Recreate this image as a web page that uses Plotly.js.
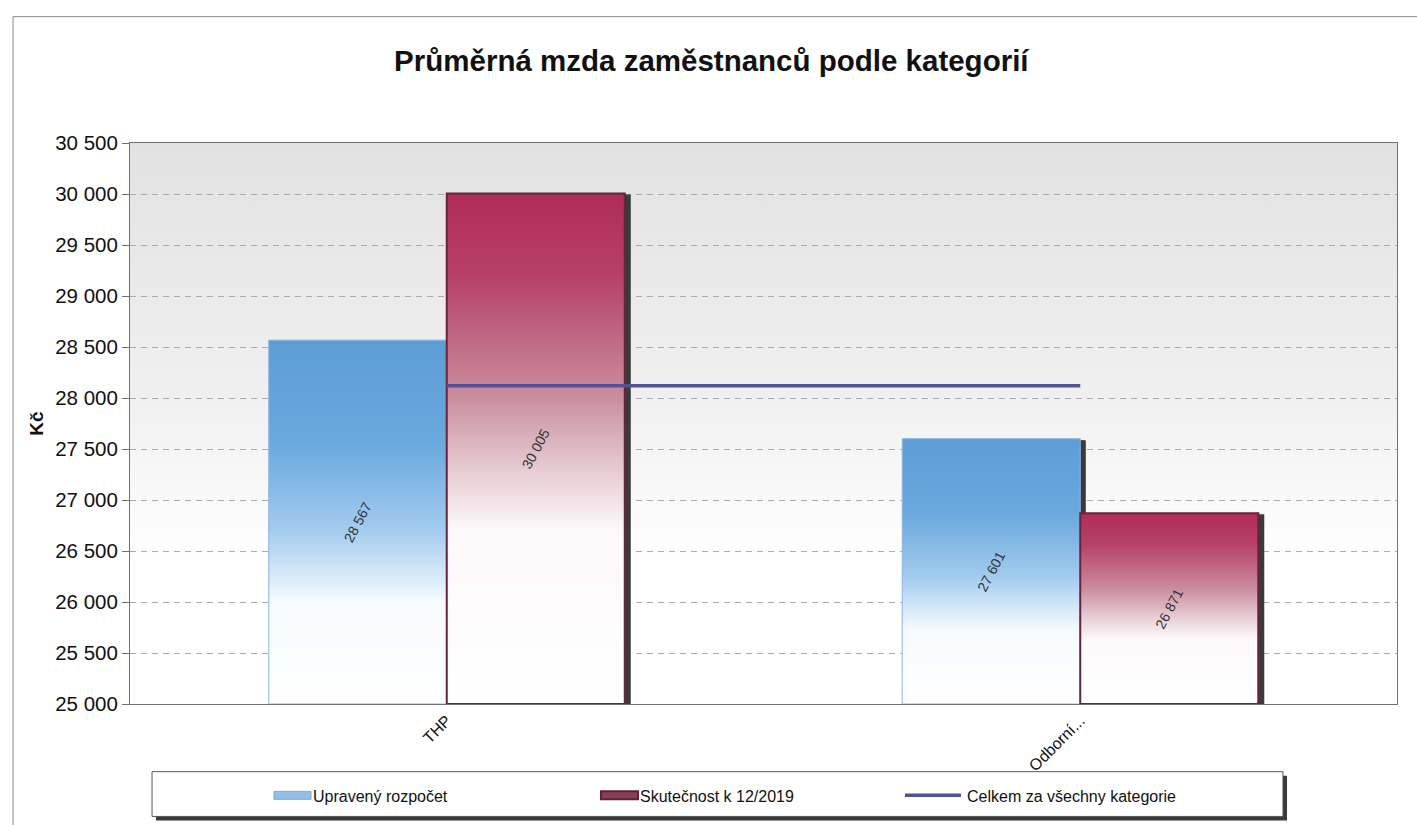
<!DOCTYPE html>
<html>
<head>
<meta charset="utf-8">
<script src="https://cdn.plot.ly/plotly-3.0.1.min.js"></script>
<style>
  html, body { margin: 0; padding: 0; background: #fff; }
  #chart { width: 1417px; height: 825px; }
</style>
</head>
<body>
<div id="chart"></div>
<script>
// ---- data ----
const categories = ['THP', 'Odborní...'];
const upravenyRozpocet = [28567, 27601];
const skutecnost = [30005, 26871];
const celkem = [28120, 28120];
const seriesNames = ['Upravený rozpočet', 'Skutečnost k 12/2019', 'Celkem za všechny kategorie'];
const yTicks = [25000, 25500, 26000, 26500, 27000, 27500, 28000, 28500, 29000, 29500, 30000, 30500];
const axisMin = 25000;
const axisMax = 30500;

function fmt(v) {
  return String(Math.round(v)).replace(/\B(?=(\d{3})+(?!\d))/g, ' ');
}

const FONT = 'Liberation Sans, Arial, sans-serif';

function barTrace(name, values, fill, lineColor, lineWidth) {
  return {
    type: 'bar', name: name, x: categories,
    base: values.map(function () { return axisMin; }),
    y: values.map(function (v) { return v - axisMin; }),
    customdata: values,
    hovertemplate: '%{x}: %{customdata}<extra>' + name + '</extra>',
    text: values.map(fmt), textposition: 'inside', insidetextanchor: 'middle',
    textangle: -62, textfont: {family: FONT, size: 14, color: '#333'},
    constraintext: 'none',
    marker: {color: fill, line: {color: lineColor, width: lineWidth}}
  };
}

const traces = [
  barTrace(seriesNames[0], upravenyRozpocet, 'rgb(110,170,225)', 'rgb(140,180,225)', 1),
  barTrace(seriesNames[1], skutecnost, 'rgb(185,70,105)', 'rgb(105,35,60)', 2),
  {
    type: 'scatter', mode: 'lines', name: seriesNames[2], x: categories, y: celkem,
    line: {color: 'rgb(82,82,150)', width: 3.5}
  }
];

const layout = {
  width: 1417, height: 825,
  paper_bgcolor: '#ffffff', plot_bgcolor: '#eeeeee',
  margin: {l: 130, r: 20, t: 143, b: 118},
  separators: ', ',
  font: {family: FONT, color: '#111'},
  title: {
    text: '<b>Průměrná mzda zaměstnanců podle kategorií</b>',
    font: {family: FONT, size: 29.5, color: '#111'},
    x: 0.502, xanchor: 'center', y: 0.927, yanchor: 'middle'
  },
  barmode: 'group', bargap: 0.438, bargroupgap: 0,
  showlegend: true,
  legend: {
    orientation: 'h', x: 0.5, xanchor: 'center', y: -0.163, yanchor: 'middle',
    font: {family: FONT, size: 16, color: '#111'},
    entrywidth: 282, bgcolor: 'rgba(0,0,0,0)', traceorder: 'normal'
  },
  xaxis: {
    type: 'category', tickangle: -45,
    tickfont: {family: FONT, size: 16, color: '#111'},
    showline: true, linecolor: '#707070', linewidth: 1, mirror: true,
    showgrid: false, ticks: '', zeroline: false, fixedrange: true
  },
  yaxis: {
    range: [axisMin, axisMax], tickvals: yTicks, ticktext: yTicks.map(fmt),
    tickfont: {family: FONT, size: 20.5, color: '#111'},
    title: {text: '<b>Kč</b>', font: {family: FONT, size: 19, color: '#111'}, standoff: 6},
    showline: true, linecolor: '#707070', linewidth: 1, mirror: true,
    ticks: 'outside', ticklen: 7, tickcolor: '#707070',
    showgrid: true, gridcolor: '#ababab', griddash: '6px,5px', gridwidth: 1,
    zeroline: false, fixedrange: true
  },
  shapes: [
    // outer chart frame
    {type: 'rect', xref: 'paper', yref: 'paper', x0: -0.0923, x1: 1.03, y0: -0.25, y1: 1.2252,
     line: {color: '#8a8a8a', width: 1}, fillcolor: 'rgba(0,0,0,0)', layer: 'below'},
    // legend box shadow
    {type: 'rect', xref: 'paper', yref: 'paper', x0: 0.0205, x1: 0.9132, y0: -0.2075, y1: -0.128,
     line: {width: 0}, fillcolor: '#3a3a3a', layer: 'above'},
    // legend box
    {type: 'rect', xref: 'paper', yref: 'paper', x0: 0.0174, x1: 0.91, y0: -0.2004, y1: -0.1206,
     line: {color: '#555', width: 1}, fillcolor: '#ffffff', layer: 'above'}
  ]
};

Plotly.newPlot('chart', traces, layout, {displayModeBar: false}).then(function (gd) {
  const svg = gd.querySelector('.main-svg');
  const NS = 'http://www.w3.org/2000/svg';
  let defs = svg.querySelector('defs');
  if (!defs) { defs = document.createElementNS(NS, 'defs'); svg.insertBefore(defs, svg.firstChild); }
  function grad(id, stops) {
    const g = document.createElementNS(NS, 'linearGradient');
    g.setAttribute('id', id);
    g.setAttribute('x1', '0'); g.setAttribute('y1', '0');
    g.setAttribute('x2', '0'); g.setAttribute('y2', '1');
    stops.forEach(function (s) {
      const st = document.createElementNS(NS, 'stop');
      st.setAttribute('offset', s[0]);
      st.setAttribute('stop-color', s[1]);
      g.appendChild(st);
    });
    defs.appendChild(g);
  }
  grad('gBlue', [[0, '#5d9dd6'], [0.28, '#6aa8de'], [0.52, '#a2cbef'], [0.72, '#f6fafe'], [1, '#ffffff']]);
  grad('gRed', [[0, '#b02c58'], [0.16, '#b64068'], [0.4, '#ca8e9f'], [0.52, '#e2c3cc'], [0.66, '#fdf9fa'], [1, '#ffffff']]);
  grad('gBg', [[0, '#e2e2e2'], [0.45, '#f0f0f0'], [0.75, '#ffffff'], [1, '#ffffff']]);

  const bg = svg.querySelector('.bglayer rect.bg');
  if (bg) bg.style.fill = 'url(#gBg)';

  const barTraces = gd.querySelectorAll('.barlayer .trace');
  barTraces.forEach(function (t, i) {
    t.querySelectorAll('path').forEach(function (p) {
      p.style.fill = i === 0 ? 'url(#gBlue)' : 'url(#gRed)';
      p.style.filter = 'drop-shadow(5px 2px 0px #3a3a3a)';
    });
  });

  // wider legend swatches, as in the reference
  const swatchFill = ['#93bfe9', '#8e3d58'];
  gd.querySelectorAll('.legend .traces').forEach(function (tr, i) {
    if (i > 1) {
      tr.querySelectorAll('.legendpoints path.js-line, .legendlines path').forEach(function (p) {
        p.setAttribute('d', 'M-22,0h56');
      });
      return;
    }
    tr.querySelectorAll('.legendpoints path').forEach(function (p) {
      p.setAttribute('d', 'M18,4H-19V-4H18Z');
      p.style.fill = swatchFill[i];
      p.style.stroke = i === 0 ? '#7aa9dc' : '#5a2436';
    });
  });
});
</script>
</body>
</html>
